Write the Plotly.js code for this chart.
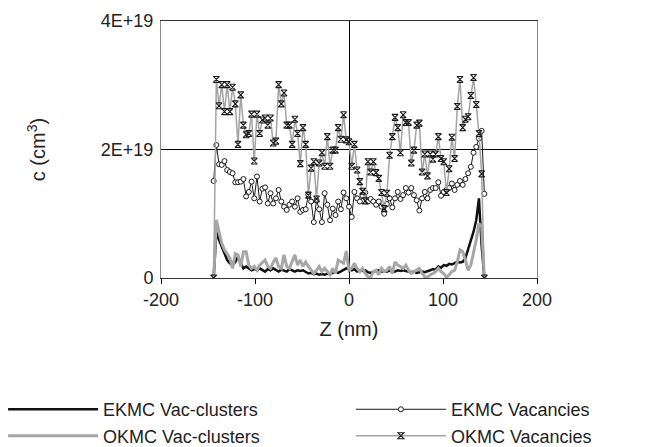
<!DOCTYPE html>
<html><head><meta charset="utf-8">
<script src="https://cdn.plot.ly/plotly-3.0.1.min.js"></script>
<style>html,body{margin:0;padding:0;background:#fff}</style>
</head><body><div id="chart" style="width:660px;height:447px"></div>
<script>
// depth Z (nm)
const Z = [-144,-141.12,-138.24,-135.36,-132.48,-129.6,-126.72,-123.84,-120.96,-118.08,-115.2,-112.32,-109.44,-106.56,-103.68,-100.8,-97.92,-95.04,-92.16,-89.28,-86.4,-83.52,-80.64,-77.76,-74.88,-72,-69.12,-66.24,-63.36,-60.48,-57.6,-54.72,-51.84,-48.96,-46.08,-43.2,-40.32,-37.44,-34.56,-31.68,-28.8,-25.92,-23.04,-20.16,-17.28,-14.4,-11.52,-8.64,-5.76,-2.88,0,2.88,5.76,8.64,11.52,14.4,17.28,20.16,23.04,25.92,28.8,31.68,34.56,37.44,40.32,43.2,46.08,48.96,51.84,54.72,57.6,60.48,63.36,66.24,69.12,72,74.88,77.76,80.64,83.52,86.4,89.28,92.16,95.04,97.92,100.8,103.68,106.56,109.44,112.32,115.2,118.08,120.96,123.84,126.72,129.6,132.48,135.36,138.24,141.12,144];

// concentrations in units of 1E+19 cm^-3
const ekmcClusters = [0,0.72,0.59,0.49,0.36,0.28,0.23,0.20,0.25,0.33,0.23,
0.15,0.18,0.15,0.12,0.14,0.12,0.15,0.12,0.10,0.14,
0.12,0.15,0.12,0.10,0.13,0.12,0.10,0.14,0.12,0.10,
0.12,0.11,0.12,0.09,0.07,0.08,0.06,0.07,0.05,0.06,
0.05,0.07,0.06,0.08,0.09,0.08,0.10,0.12,0.15,0.14,
0.12,0.14,0.10,0.12,0.11,0.12,0.09,0.08,0.10,0.11,
0.12,0.10,0.11,0.10,0.12,0.09,0.10,0.12,0.11,0.12,
0.11,0.10,0.09,0.10,0.08,0.09,0.10,0.09,0.10,0.12,
0.14,0.13,0.18,0.16,0.20,0.19,0.22,0.21,0.23,0.25,
0.24,0.25,0.31,0.44,0.59,0.72,0.90,1.24,0.50,0];

const ekmcVac = [1.51,2.07,1.77,1.76,1.82,1.68,1.65,1.63,1.49,1.49,1.50,
1.54,1.27,1.34,1.50,1.24,1.58,1.19,1.39,1.41,1.16,
1.32,1.16,1.24,1.37,1.19,1.11,1.06,1.14,1.19,1.11,
1.24,1.03,1.06,1.07,1.30,1.19,0.87,1.21,1.07,0.87,
1.32,1.14,0.90,1.08,0.98,1.19,1.07,1.33,1.24,1.11,
0.95,1.34,1.24,1.19,1.28,1.33,1.19,1.23,1.19,1.14,
1.19,1.11,1.00,1.15,1.24,1.10,1.24,1.34,1.23,1.29,
1.40,1.33,1.40,1.29,1.21,1.05,1.24,1.34,1.24,1.37,
1.40,1.40,1.49,1.28,1.34,1.37,1.40,1.47,1.37,1.45,
1.51,1.45,1.54,1.63,1.73,1.95,2.04,2.17,2.29,1.31];

const okmcClusters = [0,0.90,0.72,0.54,0.44,0.38,0.31,0.15,0.38,0.36,0.18,
0.41,0.41,0.20,0.15,0.18,0.12,0.20,0.24,0.28,0.18,
0.15,0.24,0.31,0.18,0.15,0.36,0.18,0.15,0.25,0.36,
0.20,0.28,0.18,0.25,0.18,0.12,0.07,0.12,0.18,0.10,
0.15,0.10,0.05,0.15,0.07,0.28,0.25,0.23,0.42,0.12,
0.15,0.23,0.15,0.10,0.15,0.07,0.02,0.01,0.10,0.12,
0.05,0.15,0.10,0.12,0.18,0.07,0.25,0.20,0.18,0.15,
0.20,0.12,0.07,0.10,0.12,0.15,0.07,0.02,0.01,0.05,
0.07,0.10,0.15,0.10,0.07,0.01,0.05,0.10,0.12,0.25,
0.44,0.41,0.28,0.12,0.20,0.38,0.59,0.85,0.80,0];

const okmcVac = [0,3.09,2.68,3.01,2.59,3.01,2.59,2.97,2.71,2.08,2.85,
2.38,2.23,2.25,2.55,1.82,2.55,2.25,2.46,2.49,2.38,
2.49,2.10,2.13,3.01,2.71,2.88,2.38,2.38,2.08,2.47,
2.25,1.78,2.34,2.08,1.29,1.71,1.81,1.23,1.79,1.95,
1.74,2.20,1.74,1.99,1.99,2.34,2.16,2.54,2.15,2.12,
1.74,2.08,1.68,1.50,1.35,1.20,1.81,1.65,1.81,1.64,
1.55,1.33,1.08,1.32,1.91,2.20,2.50,2.34,1.95,2.54,
2.42,2.42,1.79,1.99,2.38,2.41,1.65,1.93,1.59,1.93,
1.85,1.93,2.20,1.86,1.81,1.33,1.70,2.19,1.86,2.67,
3.09,2.34,2.47,2.51,2.84,3.12,2.70,2.25,1.62,0];

const unit = 1e19;
const yTickVals = [0, 2e19, 4e19];
const yTickText = ['0', '2E+19', '4E+19'];
const xTickVals = [-200, -100, 0, 100, 200];
const xTickText = ['-200', '-100', '0', '100', '200'];
const sc = a => a.map(v => v * unit);

const traces = [
  {name:'EKMC Vac-clusters', legend:'legend', x:Z, y:sc(ekmcClusters), type:'scatter', mode:'lines',
   line:{color:'#111111', width:2.5}},
  {name:'EKMC Vacancies', legend:'legend2', x:Z, y:sc(ekmcVac), type:'scatter', mode:'lines+markers',
   line:{color:'#1a1a1a', width:1},
   marker:{symbol:'circle', size:5, color:'#ffffff', line:{color:'#1a1a1a', width:1}}},
  {name:'OKMC Vac-clusters', legend:'legend', x:Z, y:sc(okmcClusters), type:'scatter', mode:'lines',
   line:{color:'#a6a6a6', width:3}},
  {name:'OKMC Vacancies', legend:'legend2', x:Z, y:sc(okmcVac), type:'scatter', mode:'lines+markers',
   line:{color:'#a3a3a3', width:1.5},
   marker:{symbol:'hourglass-open', size:6, color:'#1a1a1a', line:{color:'#1a1a1a', width:1.1}}}
];

const font = 'Arial, "Liberation Sans", Helvetica, sans-serif';
const legendCommon = {orientation:'v', xanchor:'left', yanchor:'top', y:-0.44,
  itemwidth:90, tracegroupgap:0, font:{size:18, color:'#222222'}, bgcolor:'rgba(0,0,0,0)', borderwidth:0};

const layout = {
  width:660, height:447,
  margin:{l:161, r:123, t:21, b:169, pad:0, autoexpand:false},
  paper_bgcolor:'#ffffff', plot_bgcolor:'#ffffff',
  font:{family:font, size:18, color:'#222222'},
  showlegend:true,
  xaxis:{range:[-200,200], tickvals:xTickVals, ticktext:xTickText, ticks:'outside', ticklen:5, tickcolor:'#000',
    showline:true, mirror:true, linecolor:'#333333', linewidth:1, showgrid:false,
    zeroline:true, zerolinecolor:'#000', zerolinewidth:1,
    title:{text:'Z (nm)', font:{size:20}, standoff:13}},
  yaxis:{range:[0,4e19], tickvals:yTickVals, ticktext:yTickText, ticks:'', ticklabelstandoff:3,
    showline:true, mirror:true, linecolor:'#8c8c8c', linewidth:1,
    showgrid:true, gridcolor:'#000', gridwidth:1, zeroline:false,
    title:{text:'c (cm<sup>3</sup>)', font:{size:20}, standoff:49}},
  legend:Object.assign({}, legendCommon, {x:-0.42}),
  legend2:Object.assign({}, legendCommon, {x:0.505})
};

Plotly.newPlot('chart', traces, layout, {staticPlot:true, displayModeBar:false});
</script>
</body></html>
